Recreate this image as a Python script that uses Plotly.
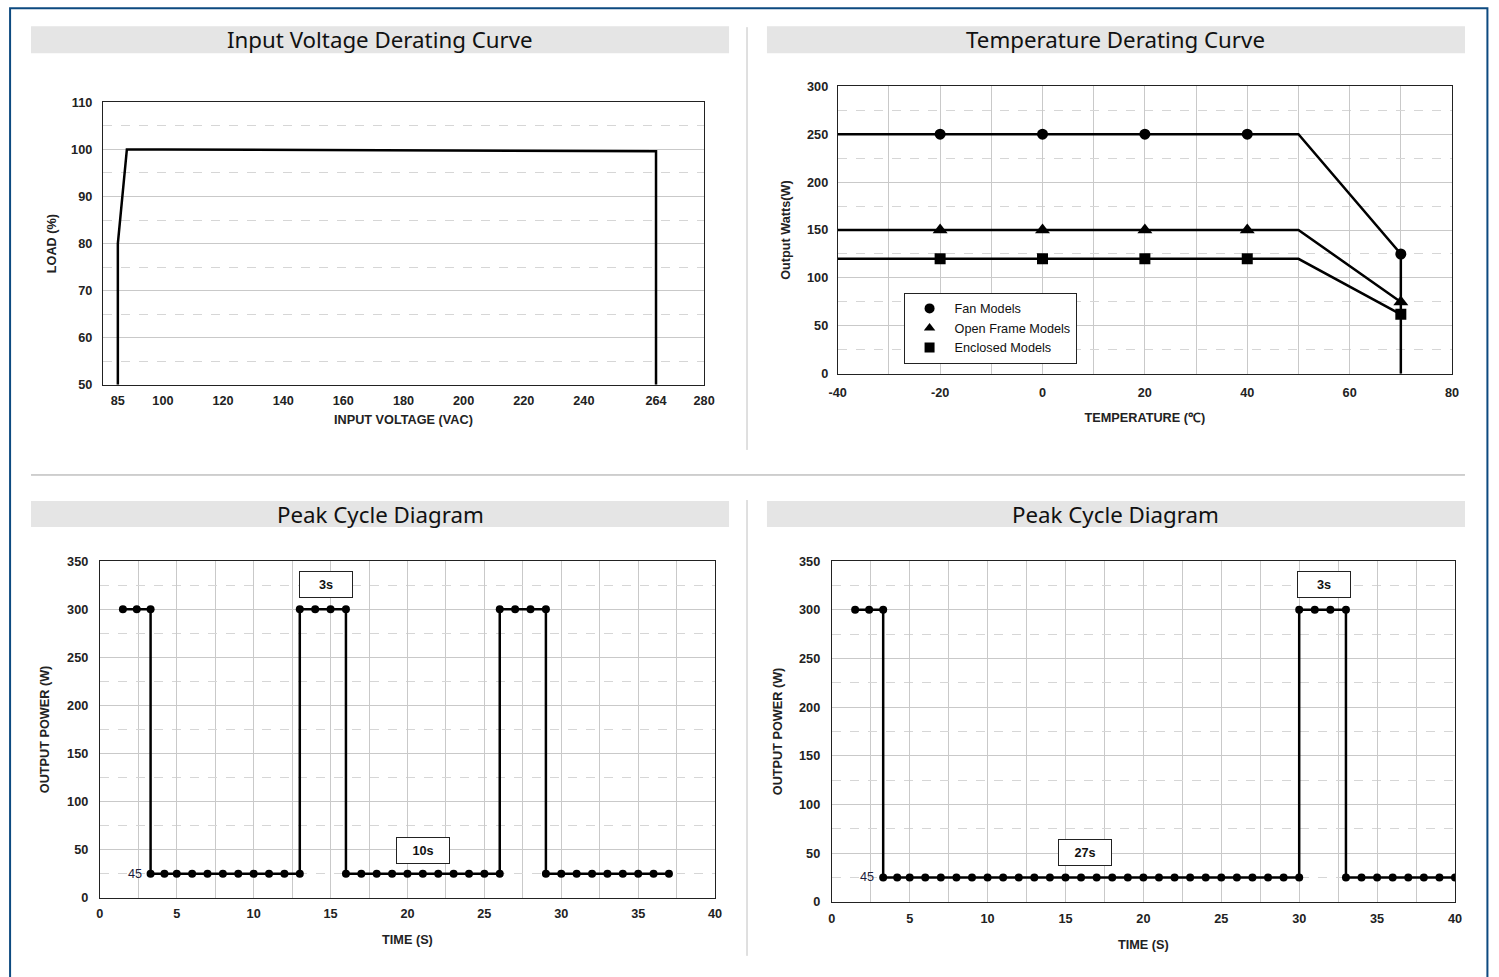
import plotly.graph_objects as go

# The page is photographed inside an 8px frame and scaled back to 1499x977,
# so positions are pre-compensated for that frame and scale.
FW, FH = 1499, 977
FRAME = 8
SX = FW / (FW + 2 * FRAME)
SY = FH / (FH + 2 * FRAME)

# ---------------- data ----------------
# Input voltage derating curve
vin_x = [85, 85, 88, 100, 264, 264]
vin_y = [50, 80, 100, 100, 99.6, 50]
vin_ticks = [85, 100, 120, 140, 160, 180, 200, 220, 240, 264, 280]
vin_grid = [90, 100, 110, 120, 130, 140, 150, 160, 170, 180, 190, 200, 210, 220, 230, 240, 250, 260, 270]

# Temperature derating curve
fan_x = [-40, 50, 70, 70]
fan_y = [250, 250, 125, 0]
open_x = [-40, 50, 70]
open_y = [150, 150, 75]
encl_x = [-40, 50, 70]
encl_y = [120, 120, 62]
mk_x = [-20, 0, 20, 40, 70]
fan_mk = [250, 250, 250, 250, 125]
open_mk = [150, 150, 150, 150, 75]
encl_mk = [120, 120, 120, 120, 62]
temp_ticks = [-40, -20, 0, 20, 40, 60, 80]
temp_labels = ["-40", "-20", "0", "20", "40", "60", "80"]

# Peak cycle diagram A (3s / 10s)
pa_t = [1.5, 2.4, 3.3, 3.3, 4.2, 5, 6, 7, 8, 9, 10, 11, 12, 13,
        13, 14, 15, 16, 16, 17, 18, 19, 20, 21, 22, 23, 24, 25, 26,
        26, 27, 28, 29, 29, 30, 31, 32, 33, 34, 35, 36, 37]
pa_p = [300, 300, 300, 25, 25, 25, 25, 25, 25, 25, 25, 25, 25, 25,
        300, 300, 300, 300, 25, 25, 25, 25, 25, 25, 25, 25, 25, 25, 25,
        300, 300, 300, 300, 25, 25, 25, 25, 25, 25, 25, 25, 25]

# Peak cycle diagram B (3s / 27s)
pb_t = [1.5, 2.4, 3.3, 3.3, 4.2, 5, 6, 7, 8, 9, 10, 11, 12, 13, 14, 15, 16, 17, 18, 19,
        20, 21, 22, 23, 24, 25, 26, 27, 28, 29, 30,
        30, 31, 32, 33, 33, 34, 35, 36, 37, 38, 39, 40]
pb_p = [300, 300, 300, 25, 25, 25, 25, 25, 25, 25, 25, 25, 25, 25, 25, 25, 25, 25, 25, 25,
        25, 25, 25, 25, 25, 25, 25, 25, 25, 25, 25,
        300, 300, 300, 300, 25, 25, 25, 25, 25, 25, 25, 25]

titles = ["Input Voltage Derating Curve", "Temperature Derating Curve",
          "Peak Cycle Diagram", "Peak Cycle Diagram"]

# ---------------- helpers ----------------
def px(x):
    return (x / SX - FRAME) / FW

def py(y):
    return 1 - (y / SY - FRAME) / FH

FAM = "Liberation Sans, Arial, sans-serif"
TICKFONT = dict(family=FAM, size=12.7, color="#222222", weight="bold")
TITLEFONT = dict(family=FAM, size=12.7, color="#222222", weight="bold")
GRID = "#c9c9c9"
DASH = "#d6d6d6"
LINE = dict(color="black", width=2.5)

fig = go.Figure()

# top-left
fig.add_trace(go.Scatter(x=vin_x, y=vin_y, mode="lines", line=LINE, xaxis="x", yaxis="y",
                         showlegend=False, hoverinfo="skip"))

# top-right
for xs, ys, mys, sym, sz, name in [
    (fan_x, fan_y, fan_mk, "circle", 11, "Fan Models"),
    (open_x, open_y, open_mk, "triangle-up", 13, "Open Frame Models"),
    (encl_x, encl_y, encl_mk, "square", 11, "Enclosed Models"),
]:
    fig.add_trace(go.Scatter(x=xs, y=ys, mode="lines", line=LINE, xaxis="x2", yaxis="y2",
                             showlegend=False, hoverinfo="skip"))
    fig.add_trace(go.Scatter(x=mk_x, y=mys, mode="markers", marker=dict(symbol=sym, size=sz, color="black"),
                             xaxis="x2", yaxis="y2", showlegend=False))
    fig.add_trace(go.Scatter(x=[None], y=[None], mode="markers", name=name,
                             marker=dict(symbol=sym, size=10, color="black"),
                             xaxis="x2", yaxis="y2", showlegend=True))

# bottom-left
fig.add_trace(go.Scatter(x=pa_t, y=pa_p, mode="lines+markers", line=LINE,
                         marker=dict(symbol="circle", size=8, color="black"),
                         xaxis="x3", yaxis="y3", showlegend=False))
# bottom-right
fig.add_trace(go.Scatter(x=pb_t, y=pb_p, mode="lines+markers", line=LINE,
                         marker=dict(symbol="circle", size=8, color="black"),
                         xaxis="x4", yaxis="y4", showlegend=False))

def axis(domain, rng, anchor, **kw):
    d = dict(domain=domain, range=rng, anchor=anchor, showline=True, mirror=True,
             linecolor="#222222", linewidth=1, ticks="", tickfont=TICKFONT,
             zeroline=False, gridcolor=GRID, gridwidth=1, fixedrange=True)
    d.update(kw)
    return d

tl_x = [px(102), px(705)]
tl_y = [py(385), py(103)]
tr_x = [px(839), px(1455)]
tr_y = [py(374), py(87)]
bl_x = [px(99), px(716)]
bl_y = [py(897), py(561)]
br_x = [px(833), px(1458)]
br_y = [py(901), py(561)]

fig.update_layout(
    width=FW, height=FH,
    margin=dict(l=0, r=0, t=0, b=0),
    paper_bgcolor="white", plot_bgcolor="white",
    xaxis=axis(tl_x, [80, 280], "y", tickmode="array", tickvals=vin_ticks, showgrid=False,
               ticklabelstandoff=4,
               title=dict(text="INPUT VOLTAGE (VAC)", font=TITLEFONT, standoff=8)),
    xaxis5=dict(domain=tl_x, range=[80, 280], anchor="y", overlaying="x", tickmode="array",
                tickvals=vin_grid, showticklabels=False, showgrid=True, gridcolor=GRID,
                zeroline=False, showline=False, ticks="", fixedrange=True),
    yaxis=axis(tl_y, [50, 110], "x", dtick=10, tick0=0, ticklabelstandoff=7,
               minor=dict(dtick=5, showgrid=True, gridcolor=DASH, griddash="dash"),
               title=dict(text="LOAD (%)", font=TITLEFONT, standoff=11)),
    xaxis2=axis(tr_x, [-40, 80], "y2", tickmode="array", tickvals=temp_ticks, ticktext=temp_labels,
                ticklabelstandoff=7,
                minor=dict(dtick=10, showgrid=True, gridcolor=GRID),
                title=dict(text="TEMPERATURE (℃)", font=TITLEFONT, standoff=14)),
    yaxis2=axis(tr_y, [0, 300], "x2", dtick=50, tick0=0, ticklabelstandoff=6,
                minor=dict(dtick=25, showgrid=True, gridcolor=DASH, griddash="dash"),
                title=dict(text="Output Watts(W)", font=TITLEFONT, standoff=13)),
    xaxis3=axis(bl_x, [0, 40], "y3", dtick=5, tick0=0, ticklabelstandoff=4,
                minor=dict(dtick=2.5, showgrid=True, gridcolor=GRID),
                title=dict(text="TIME (S)", font=TITLEFONT, standoff=14.5)),
    yaxis3=axis(bl_y, [0, 350], "x3", dtick=50, tick0=0, ticklabelstandoff=8,
                minor=dict(dtick=25, showgrid=True, gridcolor=DASH, griddash="dash"),
                title=dict(text="OUTPUT POWER (W)", font=TITLEFONT, standoff=14)),
    xaxis4=axis(br_x, [0, 40], "y4", dtick=5, tick0=0, ticklabelstandoff=5,
                minor=dict(dtick=2.5, showgrid=True, gridcolor=GRID),
                title=dict(text="TIME (S)", font=TITLEFONT, standoff=14.5)),
    yaxis4=axis(br_y, [0, 350], "x4", dtick=50, tick0=0, ticklabelstandoff=8,
                minor=dict(dtick=25, showgrid=True, gridcolor=DASH, griddash="dash"),
                title=dict(text="OUTPUT POWER (W)", font=TITLEFONT, standoff=13)),
    legend=dict(x=px(905), y=py(293), xanchor="left", yanchor="top",
                bgcolor="white", bordercolor="#222222", borderwidth=1,
                font=dict(family=FAM, size=12.7, color="#111111"),
                itemwidth=40, tracegroupgap=0),
)

shapes = []
annotations = []
# page border (left, top, right)
shapes.append(dict(type="rect", xref="paper", yref="paper", x0=px(9), x1=px(1490.5), y0=-0.05, y1=py(9),
                   line=dict(color="#0d4a80", width=2), fillcolor="rgba(0,0,0,0)", layer="below"))
# separators
shapes.append(dict(type="line", xref="paper", yref="paper", x0=px(30), x1=px(1468), y0=py(475), y1=py(475),
                   line=dict(color="#a0a0a0", width=1)))
shapes.append(dict(type="line", xref="paper", yref="paper", x0=px(748), x1=px(748), y0=py(450), y1=py(28),
                   line=dict(color="#c0c0c0", width=1)))
shapes.append(dict(type="line", xref="paper", yref="paper", x0=px(748), x1=px(748), y0=py(955), y1=py(500),
                   line=dict(color="#c0c0c0", width=1)))
# title bars
bars = [(30, 730, 27, 54), (768, 1468, 27, 54), (30, 730, 501, 527), (768, 1468, 501, 527)]
for (x0, x1, y0, y1), t in zip(bars, titles):
    shapes.append(dict(type="rect", xref="paper", yref="paper", x0=px(x0), x1=px(x1), y0=py(y1), y1=py(y0),
                       fillcolor="#e5e5e5", line=dict(width=0), layer="below"))
    annotations.append(dict(text=t, xref="paper", yref="paper", x=px((x0 + x1) / 2), y=py((y0 + y1) / 2),
                            showarrow=False, xanchor="center", yanchor="middle",
                            font=dict(family="Noto Sans, Open Sans, sans-serif", size=22.3, color="#111111")))

BOXFONT = dict(family=FAM, size=12.7, color="#111111", weight="bold")
def boxlabel(text, x, y, xr, yr):
    return dict(text=text, x=x, y=y, xref=xr, yref=yr, showarrow=False, bgcolor="white",
                bordercolor="#222222", borderwidth=1, width=50, height=23, font=BOXFONT)

annotations.append(boxlabel("3s", 14.7, 326, "x3", "y3"))
annotations.append(boxlabel("10s", 21.0, 49, "x3", "y3"))
annotations.append(boxlabel("3s", 31.6, 326, "x4", "y4"))
annotations.append(boxlabel("27s", 16.25, 51, "x4", "y4"))
LBL45 = dict(family=FAM, size=12.7, color="#1c1c3a")
annotations.append(dict(text="45", x=2.3, y=25, xref="x3", yref="y3", showarrow=False, font=LBL45))
annotations.append(dict(text="45", x=2.25, y=25, xref="x4", yref="y4", showarrow=False, font=LBL45))

fig.update_layout(shapes=shapes, annotations=annotations)

fig.write_html("out.html", config={"displayModeBar": False},
               post_script="document.body.style.margin='0';document.body.style.overflow='hidden';")
